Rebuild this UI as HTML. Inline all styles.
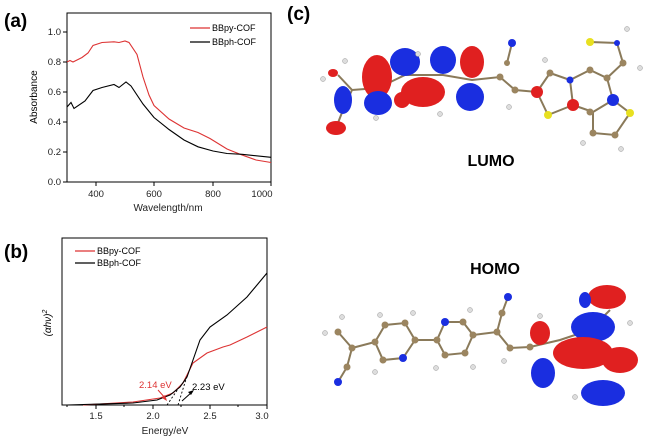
<!DOCTYPE html>
<html><head><style>body{margin:0;background:#fff}svg{display:block}</style></head><body>
<svg width="650" height="445" xmlns="http://www.w3.org/2000/svg" font-family="Liberation Sans, sans-serif">
<rect width="650" height="445" fill="#fff"/>
<!-- (a) -->
<text x="4" y="27" font-size="19" font-weight="bold">(a)</text>
<rect x="67" y="13" width="204" height="169" fill="none" stroke="#000" stroke-width="1"/>
<g stroke="#000" stroke-width="1">
<line x1="96" y1="182" x2="96" y2="186"/><line x1="154" y1="182" x2="154" y2="186"/><line x1="213" y1="182" x2="213" y2="186"/><line x1="271" y1="182" x2="271" y2="186"/>
<line x1="67" y1="32" x2="63" y2="32"/><line x1="67" y1="62" x2="63" y2="62"/><line x1="67" y1="92" x2="63" y2="92"/><line x1="67" y1="122" x2="63" y2="122"/><line x1="67" y1="152" x2="63" y2="152"/><line x1="67" y1="182" x2="63" y2="182"/>
</g>
<g font-size="9.5" fill="#222" text-anchor="end">
<text x="61" y="35">1.0</text><text x="61" y="65">0.8</text><text x="61" y="95">0.6</text><text x="61" y="125">0.4</text><text x="61" y="155">0.2</text><text x="61" y="185">0.0</text></g>
<g font-size="9.5" fill="#222" text-anchor="middle">
<text x="96" y="197">400</text><text x="154" y="197">600</text><text x="213" y="197">800</text><text x="262" y="197">1000</text>
<text x="168" y="211" font-size="10">Wavelength/nm</text></g>
<text transform="translate(37,97) rotate(-90)" font-size="10" text-anchor="middle">Absorbance</text>
<line x1="190" y1="28" x2="210" y2="28" stroke="#d33" stroke-width="1.2"/><text x="212" y="31" font-size="9">BBpy-COF</text>
<line x1="190" y1="42" x2="210" y2="42" stroke="#000" stroke-width="1.2"/><text x="212" y="45" font-size="9">BBph-COF</text>
<polyline fill="none" stroke="#d33" stroke-width="1.1" points="67,62 70,60.5 73,62 82,57.5 88,53 93,45.5 102,42.5 114,41.8 119,42.5 125,41 129,42.5 137,54.5 143,77 149,95 154,105.5 169,119 184,128 198,132.5 210,138.5 227,149 242,155 256,160 271,162.5"/>
<polyline fill="none" stroke="#000" stroke-width="1.1" points="67,107 71,102.5 74,108.5 85,101 93,90.5 102,87.5 114,84.5 119,87.5 126,82 131,86 143,104 154,117.5 169,129.5 184,140 198,146.8 213,151 227,153.5 242,154.3 271,157.3"/>
<!-- (b) -->
<text x="4" y="258" font-size="19" font-weight="bold">(b)</text>
<rect x="62" y="238" width="205" height="167" fill="none" stroke="#000" stroke-width="1"/>
<g stroke="#000" stroke-width="1">
<line x1="96" y1="405" x2="96" y2="409"/><line x1="153" y1="405" x2="153" y2="409"/><line x1="210" y1="405" x2="210" y2="409"/><line x1="267" y1="405" x2="267" y2="409"/>
<line x1="67" y1="405" x2="67" y2="407"/><line x1="124" y1="405" x2="124" y2="407"/><line x1="181" y1="405" x2="181" y2="407"/><line x1="238" y1="405" x2="238" y2="407"/></g>
<g font-size="9.5" fill="#222" text-anchor="middle">
<text x="96" y="419">1.5</text><text x="153" y="419">2.0</text><text x="210" y="419">2.5</text><text x="262" y="419">3.0</text>
<text x="165" y="434" font-size="10">Energy/eV</text></g>
<text transform="translate(51,323) rotate(-90)" font-size="10" text-anchor="middle" font-style="italic">(αhν)<tspan dy="-4" font-size="7">2</tspan></text>
<line x1="75" y1="251" x2="95" y2="251" stroke="#d33" stroke-width="1.2"/><text x="97" y="254" font-size="9">BBpy-COF</text>
<line x1="75" y1="263" x2="95" y2="263" stroke="#000" stroke-width="1.2"/><text x="97" y="266" font-size="9">BBph-COF</text>
<polyline fill="none" stroke="#d33" stroke-width="1.1" points="83,405 133,402 160,398 173,393 183,383 193,363 207,353 223,347 230,345 247,337 267,327"/>
<polyline fill="none" stroke="#000" stroke-width="1.1" points="67,405 133,403 157,400 170,395 180,387 187,377 193,360 200,340 210,327 227,315 247,297 267,273"/>
<line x1="167" y1="405" x2="178" y2="389" stroke="#000" stroke-dasharray="2,2" stroke-width="0.9"/>
<line x1="178" y1="405" x2="187" y2="376" stroke="#000" stroke-dasharray="2,2" stroke-width="0.9"/>
<text x="139" y="388" font-size="9.5" fill="#d33">2.14 eV</text>
<line x1="158" y1="390" x2="166" y2="399" stroke="#d33" stroke-width="1"/><polygon points="167,401 162,398 165,395" fill="#d33"/>
<text x="192" y="390" font-size="9.5">2.23 eV</text>
<line x1="192" y1="392" x2="182" y2="401" stroke="#000" stroke-width="1"/><polygon points="194,390 188,392 191,395" fill="#000"/>
<!-- (c) -->
<text x="287" y="20" font-size="19" font-weight="bold">(c)</text>
<text x="491" y="166" font-size="16" font-weight="bold" text-anchor="middle">LUMO</text>
<text x="495" y="274" font-size="16" font-weight="bold" text-anchor="middle">HOMO</text>
<!-- LUMO molecule skeleton -->
<g stroke="#8a7a5a" stroke-width="2" fill="none">
<polyline points="338,75 352,90 343,110 336,128"/><polyline points="352,90 378,88 405,75 443,75 472,80 500,77 515,90 537,92 550,73 570,80 590,70 607,78 623,63 617,43 590,42"/>
<polyline points="507,63 512,43"/><polyline points="537,92 548,115 573,105 570,80"/><polyline points="573,105 593,112 613,100 607,78"/><polyline points="593,112 593,133 615,135 630,113 613,100"/>
</g>
<g>
<ellipse cx="377" cy="77" rx="15" ry="22" fill="#e02020"/>
<ellipse cx="405" cy="62" rx="15" ry="14" fill="#1a2ee0"/>
<ellipse cx="378" cy="103" rx="14" ry="12" fill="#1a2ee0"/>
<ellipse cx="402" cy="100" rx="8" ry="8" fill="#e02020"/>
<ellipse cx="423" cy="92" rx="22" ry="15" fill="#e02020"/>
<ellipse cx="443" cy="60" rx="13" ry="14" fill="#1a2ee0"/>
<ellipse cx="472" cy="62" rx="12" ry="16" fill="#e02020"/>
<ellipse cx="470" cy="97" rx="14" ry="14" fill="#1a2ee0"/>
<ellipse cx="343" cy="100" rx="9" ry="14" fill="#1a2ee0"/>
<ellipse cx="336" cy="128" rx="10" ry="7" fill="#e02020"/>
<ellipse cx="333" cy="73" rx="5" ry="4" fill="#e02020"/>
<ellipse cx="537" cy="92" rx="6" ry="6" fill="#e02020"/>
<ellipse cx="573" cy="105" rx="6" ry="6" fill="#e02020"/>
<ellipse cx="613" cy="100" rx="6" ry="6" fill="#1a2ee0"/>
</g>
<g fill="#9b8560">
<circle cx="500" cy="77" r="3.5"/><circle cx="515" cy="90" r="3.5"/><circle cx="550" cy="73" r="3.5"/><circle cx="590" cy="70" r="3.5"/><circle cx="607" cy="78" r="3.5"/><circle cx="623" cy="63" r="3.5"/><circle cx="593" cy="133" r="3.5"/><circle cx="615" cy="135" r="3.5"/><circle cx="590" cy="112" r="3.5"/><circle cx="507" cy="63" r="3"/></g>
<g fill="#e8e020"><circle cx="590" cy="42" r="4"/><circle cx="548" cy="115" r="4"/><circle cx="630" cy="113" r="4"/></g>
<g fill="#1a2ee0"><circle cx="512" cy="43" r="4"/><circle cx="570" cy="80" r="3.5"/><circle cx="617" cy="43" r="3"/></g>
<g fill="#ddd" stroke="#999" stroke-width="0.5"><circle cx="545" cy="60" r="2.5"/><circle cx="509" cy="107" r="2.5"/><circle cx="640" cy="68" r="2.5"/><circle cx="627" cy="29" r="2.5"/><circle cx="583" cy="143" r="2.5"/><circle cx="621" cy="149" r="2.5"/><circle cx="376" cy="118" r="2.5"/><circle cx="440" cy="114" r="2.5"/><circle cx="345" cy="61" r="2.5"/><circle cx="323" cy="79" r="2.5"/><circle cx="418" cy="54" r="2.5"/></g>
<!-- HOMO skeleton -->
<g stroke="#8a7a5a" stroke-width="2" fill="none">
<polyline points="338,382 347,367 352,348 338,332"/><polyline points="352,348 375,342 385,325 405,323 415,340 403,358 383,360 375,342"/>
<polyline points="415,340 437,340 445,322 463,322 473,335 465,353 445,355 437,340"/><polyline points="473,335 497,332 502,313 508,297"/><polyline points="497,332 510,348 530,347 560,340 590,330 610,310"/>
</g>
<g>
<ellipse cx="607" cy="297" rx="19" ry="12" fill="#e02020"/>
<ellipse cx="593" cy="327" rx="22" ry="15" fill="#1a2ee0"/>
<ellipse cx="540" cy="333" rx="10" ry="12" fill="#e02020"/>
<ellipse cx="620" cy="360" rx="18" ry="13" fill="#e02020"/>
<ellipse cx="583" cy="353" rx="30" ry="16" fill="#e02020"/>
<ellipse cx="543" cy="373" rx="12" ry="15" fill="#1a2ee0"/>
<ellipse cx="603" cy="393" rx="22" ry="13" fill="#1a2ee0"/>
<ellipse cx="585" cy="300" rx="6" ry="8" fill="#1a2ee0"/>
</g>
<g fill="#9b8560">
<circle cx="347" cy="367" r="3.5"/><circle cx="352" cy="348" r="3.5"/><circle cx="338" cy="332" r="3.5"/><circle cx="375" cy="342" r="3.5"/><circle cx="385" cy="325" r="3.5"/><circle cx="405" cy="323" r="3.5"/><circle cx="415" cy="340" r="3.5"/><circle cx="383" cy="360" r="3.5"/><circle cx="437" cy="340" r="3.5"/><circle cx="463" cy="322" r="3.5"/><circle cx="473" cy="335" r="3.5"/><circle cx="465" cy="353" r="3.5"/><circle cx="445" cy="355" r="3.5"/><circle cx="497" cy="332" r="3.5"/><circle cx="502" cy="313" r="3.5"/><circle cx="510" cy="348" r="3.5"/><circle cx="530" cy="347" r="3.5"/></g>
<g fill="#1a2ee0"><circle cx="338" cy="382" r="4"/><circle cx="403" cy="358" r="4"/><circle cx="445" cy="322" r="4"/><circle cx="508" cy="297" r="4"/></g>
<g fill="#ddd" stroke="#999" stroke-width="0.5"><circle cx="325" cy="333" r="2.5"/><circle cx="342" cy="317" r="2.5"/><circle cx="380" cy="315" r="2.5"/><circle cx="413" cy="313" r="2.5"/><circle cx="375" cy="372" r="2.5"/><circle cx="436" cy="368" r="2.5"/><circle cx="470" cy="310" r="2.5"/><circle cx="473" cy="367" r="2.5"/><circle cx="504" cy="361" r="2.5"/><circle cx="540" cy="316" r="2.5"/><circle cx="630" cy="323" r="2.5"/><circle cx="575" cy="397" r="2.5"/></g>
</svg>
</body></html>
